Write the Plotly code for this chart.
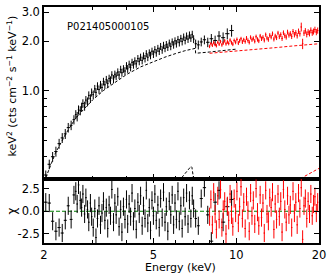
import numpy as np
import plotly.graph_objects as go

# ---------------- data ----------------
black_E = [2.03, 2.09, 2.15, 2.21, 2.27, 2.33, 2.39, 2.45, 2.51, 2.57,
           2.61, 2.64, 2.67, 2.71, 2.74, 2.77, 2.81, 2.84, 2.88, 2.91, 2.95, 2.98,
           3.02, 3.06, 3.09, 3.13, 3.17, 3.21, 3.25, 3.29, 3.33, 3.37, 3.41, 3.45,
           3.49, 3.53, 3.58, 3.62, 3.66, 3.71, 3.75, 3.80, 3.84, 3.89, 3.94, 3.99,
           4.03, 4.08, 4.13, 4.18, 4.23, 4.28, 4.33, 4.39, 4.44, 4.49, 4.55, 4.60,
           4.66, 4.71, 4.77, 4.83, 4.88, 4.94, 5.00, 5.06, 5.12, 5.19, 5.25, 5.31,
           5.38, 5.44, 5.51, 5.57, 5.64, 5.71, 5.78, 5.85, 5.92, 5.99, 6.06, 6.14,
           6.21, 6.29, 6.36, 6.44, 6.52, 6.60, 6.68, 6.76, 6.84, 6.92, 7.00,
           7.12, 7.28, 7.46, 7.66, 7.88, 8.12, 8.38, 8.66, 8.96, 9.28, 9.62]
black_flux = [0.31, 0.36, 0.40, 0.43, 0.48, 0.52, 0.55, 0.60, 0.62, 0.67,
              0.72, 0.70, 0.77, 0.76, 0.80, 0.84, 0.81, 0.88, 0.86, 0.94, 0.90, 0.98,
              0.95, 1.03, 0.98, 1.07, 1.02, 1.09, 1.05, 1.14, 1.09, 1.17, 1.11, 1.19,
              1.16, 1.25, 1.18, 1.26, 1.23, 1.30, 1.25, 1.35, 1.29, 1.36, 1.32, 1.42,
              1.36, 1.45, 1.39, 1.49, 1.44, 1.52, 1.46, 1.57, 1.51, 1.60, 1.53, 1.63,
              1.57, 1.68, 1.60, 1.70, 1.64, 1.74, 1.67, 1.78, 1.70, 1.81, 1.74, 1.86,
              1.77, 1.89, 1.81, 1.91, 1.84, 1.95, 1.86, 1.98, 1.90, 2.01, 1.93, 2.05,
              1.96, 2.08, 1.99, 2.12, 2.02, 2.15, 2.06, 2.18, 2.09, 2.20, 2.06,
              1.93, 1.90, 1.98, 2.04, 1.97, 2.07, 2.02, 2.15, 2.10, 2.22, 2.32]
black_err = [0.020, 0.024, 0.027, 0.030, 0.033, 0.036, 0.038, 0.040, 0.041, 0.043,
             0.045, 0.046, 0.047, 0.048, 0.049, 0.050, 0.051, 0.052, 0.053, 0.054, 0.055, 0.055,
             0.056, 0.057, 0.058, 0.058, 0.059, 0.060, 0.061, 0.061, 0.062, 0.063, 0.064, 0.064,
             0.065, 0.066, 0.067, 0.067, 0.068, 0.069, 0.070, 0.070, 0.071, 0.072, 0.073, 0.073,
             0.074, 0.075, 0.076, 0.076, 0.077, 0.078, 0.079, 0.079, 0.080, 0.081, 0.082, 0.082,
             0.083, 0.084, 0.085, 0.085, 0.086, 0.087, 0.088, 0.088, 0.089, 0.090, 0.091, 0.091,
             0.092, 0.093, 0.094, 0.094, 0.095, 0.096, 0.097, 0.098, 0.099, 0.100, 0.101, 0.102,
             0.103, 0.104, 0.105, 0.106, 0.107, 0.108, 0.109, 0.110, 0.111, 0.112, 0.113,
             0.115, 0.118, 0.120, 0.125, 0.13, 0.14, 0.14, 0.15, 0.16, 0.17, 0.19]
black_resid = [1.0, 0.9, -1.1, -2.2, -1.8, -2.4, -1.0, 0.6, -0.9, 1.8,
               2.2, 0.8, 2.9, 1.2, 0.4, 1.9, -0.3, 1.5, 0.2, -1.2, 0.9, -0.6,
               -1.8, 0.3, -2.9, -0.8, 0.6, -1.5, -0.2, 1.1, -1.0, 0.4, -1.9, 0.7,
               -0.5, 2.4, -1.2, 0.9, -0.4, 1.6, -1.7, 0.2, -2.3, 0.5, -0.9, 1.3,
               -1.4, 0.8, -0.6, 2.0, -1.1, 0.3, -2.0, 1.0, -0.3, 1.7, -1.6, 0.6,
               -0.8, 2.3, -1.3, 0.4, -2.1, 1.2, -0.5, 1.9, -1.0, 0.7, -1.8, 1.4,
               -0.7, 2.1, -1.2, 0.5, -2.2, 1.1, -0.4, 1.8, -1.5, 0.9, -0.9, 2.2,
               -1.1, 0.6, -1.9, 1.5, -0.6, 2.0, -1.4, 1.2, -0.8, 1.7, 0.3,
               -0.8, -1.6, 1.4, 2.6, -0.4, -3.3, 1.0, 2.3, -1.2, 0.5, 1.3]

red_E = [8.00, 8.09, 8.19, 8.28, 8.38, 8.47, 8.57, 8.67, 8.77, 8.87, 8.97, 9.08,
         9.18, 9.29, 9.39, 9.50, 9.61, 9.72, 9.83, 9.95, 10.06, 10.18, 10.29, 10.41,
         10.53, 10.65, 10.78, 10.90, 11.03, 11.15, 11.28, 11.41, 11.54, 11.68, 11.81,
         11.95, 12.08, 12.22, 12.36, 12.51, 12.65, 12.80, 12.94, 13.09, 13.24, 13.40,
         13.55, 13.71, 13.86, 14.02, 14.19, 14.35, 14.52, 14.68, 14.85, 15.02, 15.20,
         15.37, 15.55, 15.73, 15.91, 16.09, 16.28, 16.47, 16.66, 16.85, 17.04, 17.24,
         17.44, 17.64, 17.84, 18.05, 18.26, 18.47, 18.68, 18.90, 19.11, 19.33, 19.56,
         19.78]
red_flux = [1.86, 1.93, 1.89, 1.96, 1.91, 1.88, 1.97, 1.92, 1.99, 1.90, 1.95, 2.01,
            1.93, 1.98, 1.94, 2.03, 1.96, 1.92, 2.02, 1.97, 2.05, 1.95, 2.01, 2.07,
            1.98, 2.04, 1.99, 2.09, 2.02, 1.97, 2.11, 2.04, 2.08, 2.00, 2.13,
            2.05, 2.01, 2.15, 2.07, 2.11, 2.03, 2.19, 2.09, 2.05, 2.17, 2.12,
            2.22, 2.06, 2.15, 2.10, 2.24, 2.13, 2.19, 2.08, 2.25, 2.16, 2.12,
            2.27, 2.18, 2.22, 2.14, 2.29, 2.19, 2.25, 2.16, 2.30, 2.22, 2.44,
            1.93, 2.24, 2.31, 2.20, 2.27, 2.23, 2.33, 2.25, 2.29, 2.35, 2.27,
            2.32]
red_err = [0.045, 0.045, 0.046, 0.046, 0.047, 0.047, 0.048, 0.048, 0.049, 0.049, 0.050, 0.050,
           0.051, 0.051, 0.052, 0.052, 0.053, 0.053, 0.054, 0.054, 0.055, 0.055, 0.056, 0.056,
           0.057, 0.057, 0.058, 0.058, 0.059, 0.059, 0.060, 0.060, 0.061, 0.061, 0.062,
           0.062, 0.063, 0.063, 0.064, 0.064, 0.065, 0.065, 0.066, 0.066, 0.067, 0.067,
           0.068, 0.068, 0.069, 0.069, 0.070, 0.071, 0.072, 0.073, 0.074, 0.075, 0.076,
           0.077, 0.078, 0.079, 0.080, 0.081, 0.082, 0.083, 0.084, 0.085, 0.087, 0.15,
           0.14, 0.089, 0.090, 0.091, 0.092, 0.093, 0.094, 0.095, 0.096, 0.097, 0.098,
           0.10]
red_resid = [-0.6, 1.3, -1.5, 2.1, -0.3, -2.0, 1.7, -0.9, 2.4, -1.8, 0.2, 1.1,
             -2.5, 0.6, -1.0, 1.9, -0.4, -1.7, 1.4, -0.2, 2.2, -1.3, 0.5, 2.7,
             -0.8, 1.0, -1.9, 1.6, 0.1, -2.2, 2.0, -0.5, 1.2, -1.4, 2.5,
             -0.1, -1.6, 1.8, -0.7, 0.9, -2.4, 2.3, -0.3, -1.1, 1.5, 0.4,
             2.1, -2.0, 0.8, -0.9, 1.9, -0.6, 1.1, -2.3, 2.4, 0.2, -1.2,
             1.7, -0.4, 0.7, -1.8, 2.2, -0.2, 1.0, -1.5, 2.0, 0.3, 2.6,
             -3.1, 0.6, 1.4, -0.8, 1.1, -0.3, 1.9, -0.5, 0.8, 1.6, -0.2,
             1.0]

# model curves (dashed)
black_model_E = [2.0, 2.2, 2.4, 2.6, 2.8, 3.0, 3.3, 3.6, 4.0, 4.5, 5.0, 5.5, 6.0,
                 6.5, 7.1, 7.12, 8.0, 9.0, 10.0]
black_model = [0.28, 0.42, 0.55, 0.68, 0.78, 0.88, 1.01, 1.12, 1.26, 1.40, 1.51,
               1.60, 1.68, 1.75, 1.81, 1.69, 1.72, 1.76, 1.79]
red_model_E = [8.0, 10.0, 12.0, 14.0, 16.0, 18.0, 20.0]
red_model = [1.69, 1.74, 1.79, 1.83, 1.87, 1.90, 1.93]
line_comp_E = [6.25, 6.35, 6.45, 6.55, 6.65, 6.75, 6.85, 6.90, 6.95, 7.0, 7.05]
line_comp = [0.28, 0.30, 0.31, 0.32, 0.33, 0.34, 0.35, 0.345, 0.32, 0.29, 0.27]
hard_comp_E = [16.5, 17.5, 18.5, 19.5, 20.0]
hard_comp = [0.285, 0.30, 0.315, 0.33, 0.34]

obs_label = "P021405000105"

assert len(black_E) == len(black_flux) == len(black_err) == len(black_resid)
assert len(red_E) == len(red_flux) == len(red_err) == len(red_resid)


def half_widths(e):
    e = np.asarray(e, dtype=float)
    mids = np.sqrt(e[1:] * e[:-1])
    lo = np.concatenate([[e[0] - (mids[0] - e[0])], mids])
    hi = np.concatenate([mids, [e[-1] + (e[-1] - mids[-1])]])
    return e - lo, hi - e


bxm, bxp = half_widths(black_E)
rxm, rxp = half_widths(red_E)

fig = go.Figure()


def data_trace(x, y, err, xm, xp, color, yaxis):
    return go.Scatter(
        x=x, y=y, mode="markers", xaxis="x" if yaxis == "y" else "x2", yaxis=yaxis,
        marker=dict(size=1, color=color),
        error_y=dict(type="data", array=err, color=color, thickness=1, width=0),
        error_x=dict(type="data", array=xp, arrayminus=xm, color=color,
                     thickness=1, width=0),
        showlegend=False, hoverinfo="skip")


fig.add_trace(data_trace(black_E, black_flux, black_err, bxm, bxp, "black", "y"))
fig.add_trace(data_trace(red_E, red_flux, red_err, rxm, rxp, "red", "y"))
for xs, ys, c in [(black_model_E, black_model, "black"), (red_model_E, red_model, "red"),
                  (line_comp_E, line_comp, "black"), (hard_comp_E, hard_comp, "red")]:
    fig.add_trace(go.Scatter(x=xs, y=ys, mode="lines", xaxis="x", yaxis="y",
                             line=dict(color=c, width=1, dash="3px,2px"),
                             showlegend=False, hoverinfo="skip"))

# residuals
fig.add_trace(go.Scatter(x=[2.0, 20.0], y=[0, 0], mode="lines", xaxis="x2", yaxis="y2",
                         line=dict(color="green", width=1.2, dash="4px,2px"),
                         showlegend=False, hoverinfo="skip"))
ones_b = [1.0] * len(black_E)
ones_r = [1.0] * len(red_E)
fig.add_trace(data_trace(black_E, black_resid, ones_b, bxm, bxp, "black", "y2"))
fig.add_trace(data_trace(red_E, red_resid, ones_r, rxm, rxp, "red", "y2"))

font = dict(family="DejaVu Sans", size=11, color="black")
tfont = dict(family="DejaVu Sans", size=11.5, color="black")
xr = [np.log10(2.0), np.log10(20.0)]
common_x = dict(type="log", range=xr, showline=True, linecolor="black", linewidth=1.5,
                mirror="allticks", ticks="inside", ticklen=5, tickcolor="black",
                showgrid=False, zeroline=False,
                tickvals=[2, 5, 10, 20], ticktext=["2", "5", "10", "20"],
                minor=dict(tickvals=[3, 4, 6, 7, 8, 9], ticks="inside", ticklen=3,
                           tickcolor="black", showgrid=False))

fig.update_layout(
    width=332, height=276,
    margin=dict(l=44, r=13, t=5, b=33),
    paper_bgcolor="white", plot_bgcolor="white",
    font=font,
    xaxis=dict(**common_x, domain=[0, 1], anchor="y", showticklabels=False),
    xaxis2=dict(**common_x, domain=[0, 1], anchor="y2", matches="x",
                tickfont=tfont),
    yaxis=dict(type="log", domain=[0.273, 1], anchor="x",
               range=[np.log10(0.295), np.log10(3.22)],
               showline=True, linecolor="black", linewidth=1.5, mirror="allticks",
               ticks="inside", ticklen=5, tickcolor="black", showgrid=False,
               zeroline=False, tickvals=[1, 2, 3], ticktext=["1.0", "2.0", "3.0"],
               tickfont=tfont,
               minor=dict(tickvals=[0.3, 0.4, 0.5, 0.6, 0.7, 0.8, 0.9], ticks="inside",
                          ticklen=3, tickcolor="black", showgrid=False)),
    yaxis2=dict(domain=[0, 0.273], anchor="x2", range=[-3.5, 3.6],
                showline=True, linecolor="black", linewidth=1.5, mirror="allticks",
                ticks="inside", ticklen=5, tickcolor="black", showgrid=False,
                zeroline=False, tickvals=[-2.5, 0, 2.5], tickfont=tfont,
                ticktext=["-2.5", "0.0", "2.5"]),
    annotations=[
        dict(text="keV<sup>2</sup> (cts cm<sup>\u22122</sup> s<sup>\u22121</sup> keV<sup>\u22121</sup>)",
             xref="paper", yref="paper", x=-0.116, y=0.664, textangle=-90,
             showarrow=False, xanchor="center", yanchor="middle", font=font),
        dict(text="\u03c7", xref="paper", yref="paper", x=-0.116, y=0.134,
             textangle=-90, showarrow=False, xanchor="center", yanchor="middle",
             font=dict(family="DejaVu Sans", size=12, color="black")),
        dict(text="Energy (keV)", xref="paper", yref="paper", x=0.498, y=-0.105,
             showarrow=False, xanchor="center", yanchor="middle", font=font),
        dict(text=obs_label, xref="paper", yref="paper", x=0.233, y=0.916,
             showarrow=False, xanchor="center", yanchor="middle",
             font=dict(family="DejaVu Sans", size=10, color="black")),
    ],
)

fig.write_html("out.html", config={"displayModeBar": False},
               post_script="document.body.style.margin='0px';")
